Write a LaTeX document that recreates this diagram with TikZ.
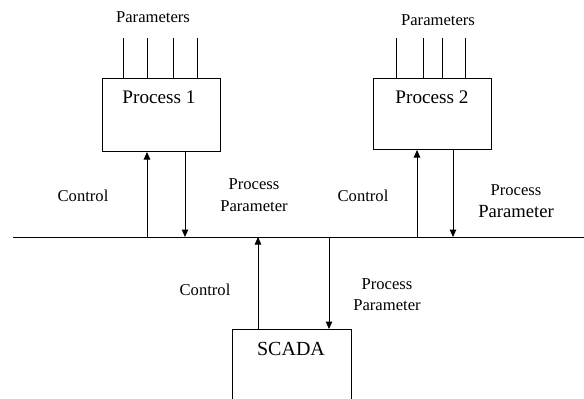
\documentclass[tikz,border=0pt]{standalone}
\usepackage{fontspec}
\setmainfont{Liberation Serif}
\usetikzlibrary{arrows.meta}
\begin{document}
\begin{tikzpicture}[x=1pt,y=-1pt,
  line width=1pt,
  box/.style={draw, line width=1pt, minimum width=118pt, minimum height=73pt, inner sep=0pt, anchor=north west},
  lbl/.style={font=\fontsize{16.6}{18}\selectfont, inner sep=0pt},
  big/.style={font=\fontsize{19.2}{21}\selectfont, inner sep=0pt},
  arr/.style={-{Triangle[width=6.5pt,length=7.5pt]}}]
\useasboundingbox (0,0) rectangle (584,399);
% process boxes
\node[box] (p1) at (102,78) {};
\node[box, minimum height=71pt] (p2) at (373,78) {};
\node[big] (p1t) at (159,97) {Process 1};
\node[big] (p2t) at (432,97) {Process 2};
% SCADA box (open at bottom)
\node[draw=none, minimum width=118pt, minimum height=70pt, inner sep=0pt, anchor=north west] (sc) at (232,329) {};
\draw[line width=1pt] (sc.south west) -- (sc.north west) -- (sc.north east) -- (sc.south east);
\node[font=\fontsize{20}{22}\selectfont, inner sep=0pt] (sct) at (291,349) {SCADA};
% parameters inputs
\node[lbl] (par1) at (153,17) {Parameters};
\node[lbl] (par2) at (438,20) {Parameters};
\foreach \x [count=\i] in {123,147,173,197} {
  \coordinate (pa\i) at (\x,38);
  \draw (pa\i) -- (pa\i |- p1.north);
}
\foreach \x [count=\i] in {396,423,442,465} {
  \coordinate (pb\i) at (\x,38);
  \draw (pb\i) -- (pb\i |- p2.north);
}
% bus
\coordinate (busL) at (13,237);
\coordinate (busR) at (584,237);
\draw (busL) -- (busR);
% process 1 connections
\coordinate (b1) at (147,237);
\coordinate (b2) at (185,237);
\draw[arr] (b1) -- (b1 |- p1.south);
\draw[arr] (b2 |- p1.south) -- (b2);
\node[lbl] (c1) at (83,196) {Control};
\node[lbl] (pp1a) at (254,184) {Process};
\node[lbl] (pp1b) at (254,206) {Parameter};
% process 2 connections
\coordinate (b3) at (417,237);
\coordinate (b4) at (453,237);
\draw[arr] (b3) -- (b3 |- p2.south);
\draw[arr] (b4 |- p2.south) -- (b4);
\node[lbl] (c2) at (363,196) {Control};
\node[lbl] (pp2a) at (516,190) {Process};
\node[font=\fontsize{18.6}{20}\selectfont, inner sep=0pt] (pp2b) at (516,211) {Parameter};
% SCADA connections
\coordinate (b5) at (258,237);
\coordinate (b6) at (329,237);
\draw[arr] (b5 |- sc.north) -- (b5);
\draw[arr] (b6) -- (b6 |- sc.north);
\node[lbl] (c3) at (205,290) {Control};
\node[lbl] (pp3a) at (387,284) {Process};
\node[lbl] (pp3b) at (387,305) {Parameter};
\end{tikzpicture}
\end{document}
